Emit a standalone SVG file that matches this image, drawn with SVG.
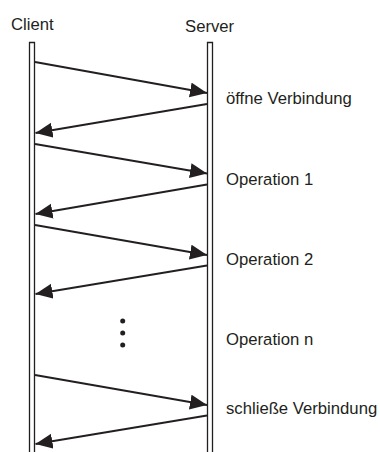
<svg xmlns="http://www.w3.org/2000/svg" width="380" height="452" viewBox="0 0 380 452">
<style>
text{font-family:"Liberation Sans",Arial,sans-serif;font-size:16.7px;fill:#231f20}
.life{fill:none;stroke:#231f20;stroke-width:1.3}
.msg{fill:none;stroke:#231f20;stroke-width:2;marker-end:url(#ah)}
</style>
<defs>
<marker id="ah" markerUnits="userSpaceOnUse" markerWidth="18" markerHeight="16" refX="17" refY="7.5" orient="auto" viewBox="0 0 18 16">
<path d="M0,0 L17,7.5 L0,15 z" fill="#231f20"/>
</marker>
</defs>
<g id="client">
<text x="11" y="29.5">Client</text>
<path class="life" d="M29.5,456 V42.5 H34.5 V456"/>
</g>
<g id="server">
<text x="185" y="32">Server</text>
<path class="life" d="M207.5,456 V42.5 H212.5 V456"/>
</g>
<g id="labels">
<text x="226" y="104">öffne Verbindung</text>
<text x="226" y="184.5">Operation 1</text>
<text x="226" y="265">Operation 2</text>
<text x="226" y="345">Operation n</text>
<text x="226" y="413.5">schließe Verbindung</text>
</g>
<g id="dots" fill="#231f20">
<circle cx="122.7" cy="321" r="2.5"/>
<circle cx="122.7" cy="333" r="2.5"/>
<circle cx="122.7" cy="345" r="2.5"/>
</g>
<g id="connectors">
<line class="msg" x1="35" y1="62" x2="207" y2="93"/>
<line class="msg" x1="207" y1="104" x2="35.5" y2="133"/>
<line class="msg" x1="35" y1="144" x2="207" y2="173.5"/>
<line class="msg" x1="207" y1="184.5" x2="35.5" y2="214"/>
<line class="msg" x1="35" y1="225" x2="207" y2="255"/>
<line class="msg" x1="207" y1="265.5" x2="35.5" y2="294"/>
<line class="msg" x1="35" y1="375" x2="207" y2="405"/>
<line class="msg" x1="207" y1="415.5" x2="35.5" y2="444"/>
</g>
</svg>
